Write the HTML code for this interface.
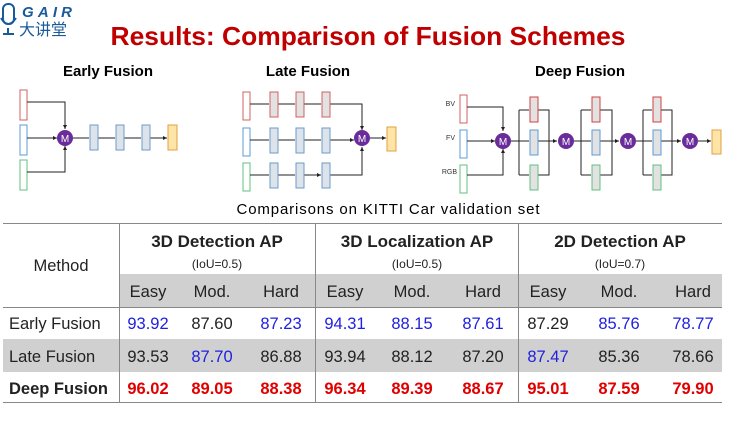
<!DOCTYPE html>
<html><head><meta charset="utf-8"><style>
html,body{margin:0;padding:0;background:#fff;}
svg{display:block;font-family:"Liberation Sans","Noto Sans CJK SC",sans-serif;}
</style></head><body>
<svg width="740" height="423" viewBox="0 0 740 423" xmlns="http://www.w3.org/2000/svg">
<defs>
<marker id="a" viewBox="0 0 6 6" refX="6" refY="3" markerWidth="4" markerHeight="4" orient="auto"><path d="M0,0L6,3L0,6z" fill="#222"/></marker>
</defs>
<g>
<rect x="3" y="4" width="11" height="20" rx="5" fill="none" stroke="#1a5a9a" stroke-width="2"/>
<path d="M1,18 Q8,30 16,18 M8,28 L8,34 M3,34 L14,34" fill="none" stroke="#1a5a9a" stroke-width="2"/>
<text x="22" y="17" font-size="15" font-style="italic" font-weight="bold" fill="#1a5a9a" textLength="50">GAIR</text>
<text x="19" y="35" font-size="16" fill="#1a5a9a" font-family="Noto Sans CJK SC,sans-serif">大讲堂</text>
</g>
<text x="368" y="45" font-size="26" font-weight="bold" fill="#c00000" text-anchor="middle" textLength="515" lengthAdjust="spacingAndGlyphs">Results: Comparison of Fusion Schemes</text>
<text x="108" y="76" font-size="15" font-weight="bold" text-anchor="middle">Early Fusion</text>
<text x="308" y="76" font-size="15" font-weight="bold" text-anchor="middle">Late Fusion</text>
<text x="580" y="76" font-size="15" font-weight="bold" text-anchor="middle">Deep Fusion</text>

<g stroke-width="1" fill="none">
<rect x="20" y="90" width="7" height="30" fill="#fff" stroke="#d06060"/>
<rect x="20" y="125" width="7" height="30" fill="#fff" stroke="#5b9bd5"/>
<rect x="20" y="160" width="7" height="30" fill="#fff" stroke="#60c080"/>
<path d="M27,102 H65 V129" stroke="#222" marker-end="url(#a)"/>
<path d="M27,138 H57" stroke="#222" marker-end="url(#a)"/>
<path d="M27,172 H65 V146" stroke="#222" marker-end="url(#a)"/>
<path d="M73,138 H89 M98,138 H115 M124,138 H141 M150,138 H167" stroke="#222" marker-end="url(#a)"/>
<rect x="90" y="125" width="8" height="25" fill="#dde3ea" stroke="#6d9bc8"/>
<rect x="116" y="125" width="8" height="25" fill="#dde3ea" stroke="#6d9bc8"/>
<rect x="142" y="125" width="8" height="25" fill="#dde3ea" stroke="#6d9bc8"/>
<rect x="168" y="125" width="9" height="25" fill="#ffe4a8" stroke="#e0a040"/>
<rect x="243" y="92" width="7" height="28" fill="#fff" stroke="#d06060"/>
<rect x="243" y="128" width="7" height="28" fill="#fff" stroke="#5b9bd5"/>
<rect x="243" y="163" width="7" height="28" fill="#fff" stroke="#60c080"/>
<path d="M250,104 H269 M278,104 H295 M304,104 H321 M250,140 H269 M278,140 H295 M304,140 H321 M250,175 H269 M278,175 H295 M304,175 H321" stroke="#222" marker-end="url(#a)"/>
<path d="M330,104 H362 V130" stroke="#222" marker-end="url(#a)"/>
<path d="M330,140 H354" stroke="#222" marker-end="url(#a)"/>
<path d="M330,175 H362 V147" stroke="#222" marker-end="url(#a)"/>
<path d="M370,138 H386" stroke="#222" marker-end="url(#a)"/>
<g fill="#e2e2e2" stroke="#d06060"><rect x="270" y="92" width="8" height="25"/><rect x="296" y="92" width="8" height="25"/><rect x="322" y="92" width="8" height="25"/></g>
<g fill="#dde3ea" stroke="#6d9bc8"><rect x="270" y="128" width="8" height="25"/><rect x="296" y="128" width="8" height="25"/><rect x="322" y="128" width="8" height="25"/></g>
<g fill="#dde3ea" stroke="#6d9bc8"><rect x="270" y="163" width="8" height="25"/><rect x="296" y="163" width="8" height="25"/><rect x="322" y="163" width="8" height="25"/></g>
<rect x="387" y="127" width="9" height="24" fill="#ffe4a8" stroke="#e0a040"/>
<rect x="460" y="95" width="7" height="28" fill="#fff" stroke="#d06060"/>
<rect x="460" y="130" width="7" height="28" fill="#fff" stroke="#5b9bd5"/>
<rect x="460" y="165" width="7" height="28" fill="#fff" stroke="#60c080"/>
<path d="M467,107 H503 V131" stroke="#222" marker-end="url(#a)"/>
<path d="M467,141 H495" stroke="#222" marker-end="url(#a)"/>
<path d="M467,175 H503 V149" stroke="#222" marker-end="url(#a)"/>
<g stroke="#222">
<path d="M511,141 H529 M519,110 V175 M519,110 H529 M519,175 H529 M537,110 H549 V175 H537 M537,141 H557" marker-end="url(#a)"/>
<path d="M574,141 H591 M581,110 V175 M581,110 H591 M581,175 H591 M600,110 H612 V175 H600 M600,141 H619" marker-end="url(#a)"/>
<path d="M636,141 H652 M643,110 V175 M643,110 H652 M643,175 H652 M661,110 H672 V175 H661 M661,141 H681" marker-end="url(#a)"/>
<path d="M698,141 H711" marker-end="url(#a)"/>
</g>
<g fill="#e2e2e2">
<rect x="530" y="97" width="8" height="25" stroke="#d04040"/><rect x="530" y="130" width="8" height="25" stroke="#5b9bd5"/><rect x="530" y="165" width="8" height="25" stroke="#60c080"/>
<rect x="592" y="97" width="8" height="25" stroke="#d04040"/><rect x="592" y="130" width="8" height="25" stroke="#5b9bd5"/><rect x="592" y="165" width="8" height="25" stroke="#60c080"/>
<rect x="653" y="97" width="8" height="25" stroke="#d04040"/><rect x="653" y="130" width="8" height="25" stroke="#5b9bd5"/><rect x="653" y="165" width="8" height="25" stroke="#60c080"/>
</g>
<rect x="712" y="130" width="9" height="24" fill="#ffe4a8" stroke="#e0a040"/>
</g>
<g fill="#6a2c9a">
<circle cx="65" cy="138" r="8"/><circle cx="362" cy="138" r="8"/>
<circle cx="503" cy="141" r="8"/><circle cx="566" cy="141" r="8"/><circle cx="628" cy="141" r="8"/><circle cx="690" cy="141" r="8"/>
</g>
<g fill="#fff" font-size="10" text-anchor="middle">
<text x="65" y="142">M</text><text x="362" y="142">M</text><text x="503" y="145">M</text><text x="566" y="145">M</text><text x="628" y="145">M</text><text x="690" y="145">M</text>
</g>
<g font-size="7" fill="#333" text-anchor="end"><text x="455" y="106">BV</text><text x="455" y="140">FV</text><text x="457" y="174">RGB</text></g>

<text x="388" y="214" font-size="15" text-anchor="middle" textLength="303">Comparisons on KITTI Car validation set</text>

<rect x="119" y="274" width="603" height="33" fill="#d0d0d0"/>
<rect x="3" y="339" width="719" height="33" fill="#d0d0d0"/>
<g stroke="#888" stroke-width="1">
<line x1="3" y1="223.5" x2="722" y2="223.5"/>
<line x1="3" y1="307.5" x2="722" y2="307.5"/>
<line x1="3" y1="402.5" x2="722" y2="402.5"/>
<line x1="119.5" y1="223" x2="119.5" y2="402"/>
<line x1="315.5" y1="223" x2="315.5" y2="402"/>
<line x1="518.5" y1="223" x2="518.5" y2="402"/>
</g>
<g font-size="16.5" fill="#222">
<text x="61" y="271" text-anchor="middle">Method</text>
<g font-weight="bold" font-size="17" text-anchor="middle">
<text x="217" y="247">3D Detection AP</text><text x="417" y="247">3D Localization AP</text><text x="620" y="247">2D Detection AP</text>
</g>
<g font-size="12" text-anchor="middle"><text x="217" y="268">(IoU=0.5)</text><text x="417" y="268">(IoU=0.5)</text><text x="620" y="268">(IoU=0.7)</text></g>
<g text-anchor="middle">
<text x="148" y="297">Easy</text><text x="212" y="297">Mod.</text><text x="281" y="297">Hard</text>
<text x="345" y="297">Easy</text><text x="412" y="297">Mod.</text><text x="483" y="297">Hard</text>
<text x="548" y="297">Easy</text><text x="619" y="297">Mod.</text><text x="693" y="297">Hard</text>
</g>
<text x="9" y="329">Early Fusion</text>
<text x="9" y="362">Late Fusion</text>
<text x="9" y="394" font-weight="bold">Deep Fusion</text>
<g text-anchor="middle">
<text x="148" y="329" fill="#2020e0">93.92</text><text x="212" y="329">87.60</text><text x="281" y="329" fill="#2020e0">87.23</text>
<text x="345" y="329" fill="#2020e0">94.31</text><text x="412" y="329" fill="#2020e0">88.15</text><text x="483" y="329" fill="#2020e0">87.61</text>
<text x="548" y="329">87.29</text><text x="619" y="329" fill="#2020e0">85.76</text><text x="693" y="329" fill="#2020e0">78.77</text>
<text x="148" y="362">93.53</text><text x="212" y="362" fill="#2020e0">87.70</text><text x="281" y="362">86.88</text>
<text x="345" y="362">93.94</text><text x="412" y="362">88.12</text><text x="483" y="362">87.20</text>
<text x="548" y="362" fill="#2020e0">87.47</text><text x="619" y="362">85.36</text><text x="693" y="362">78.66</text>
<g fill="#e00000" font-weight="bold">
<text x="148" y="394">96.02</text><text x="212" y="394">89.05</text><text x="281" y="394">88.38</text>
<text x="345" y="394">96.34</text><text x="412" y="394">89.39</text><text x="483" y="394">88.67</text>
<text x="548" y="394">95.01</text><text x="619" y="394">87.59</text><text x="693" y="394">79.90</text>
</g>
</g>
</g>
</svg>
</body></html>
